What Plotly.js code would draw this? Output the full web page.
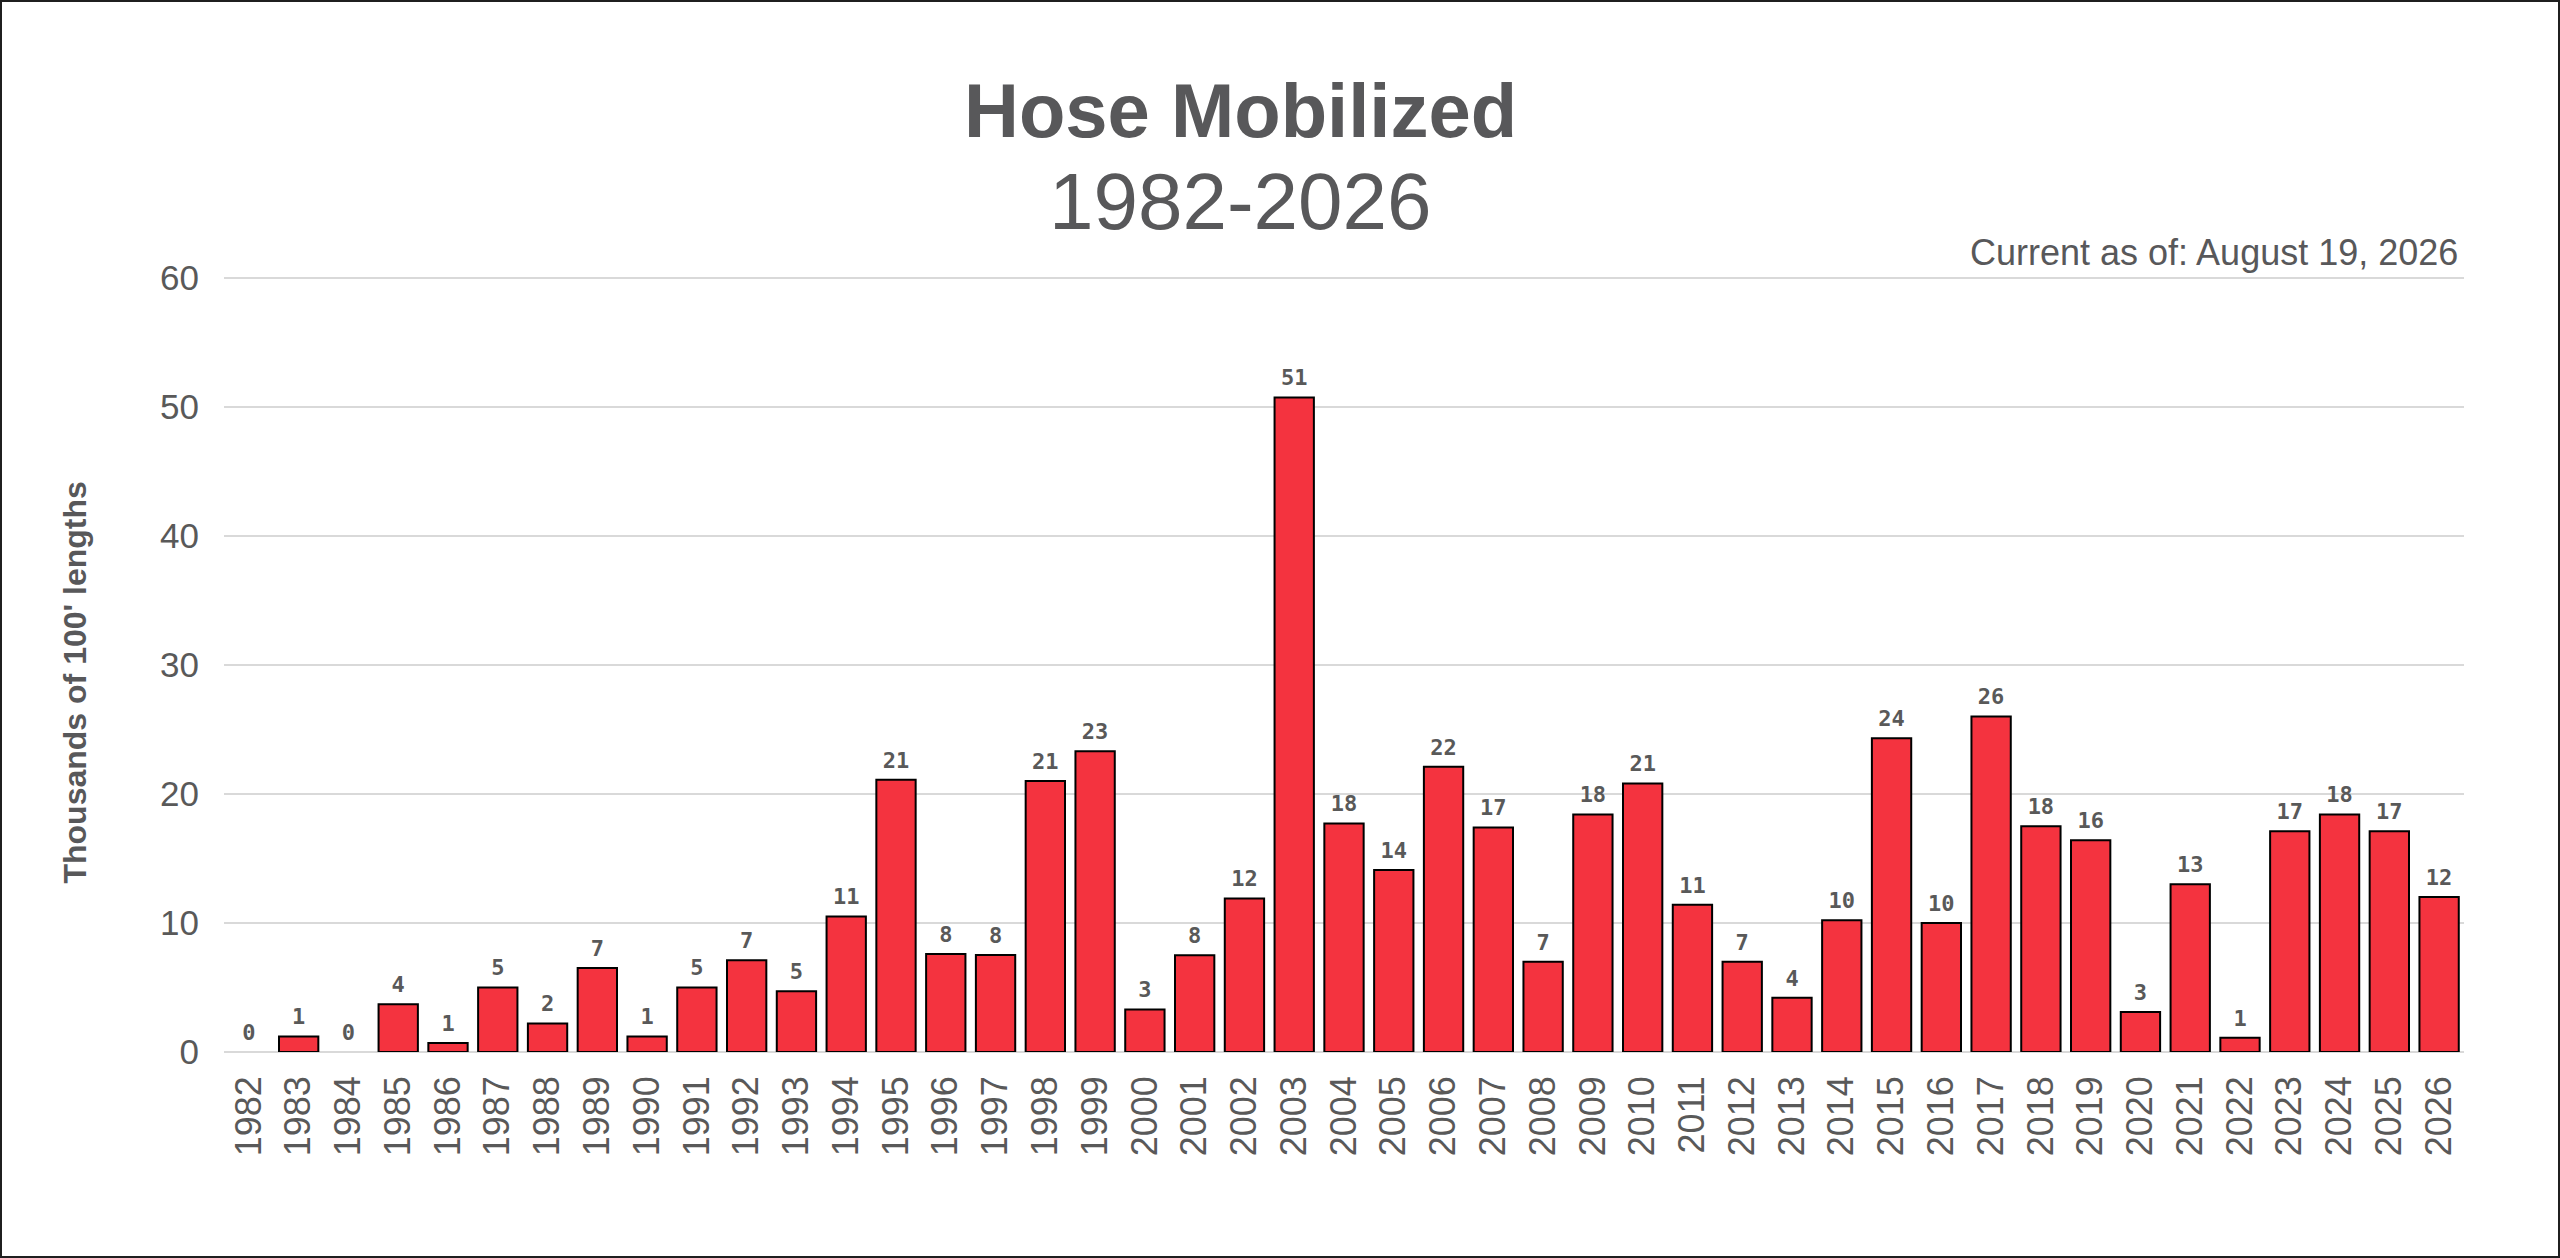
<!DOCTYPE html>
<html>
<head>
<meta charset="utf-8">
<title>Hose Mobilized</title>
<script src="https://cdn.plot.ly/plotly-3.0.1.min.js"></script>
<style>
    html, body {
        margin: 0;
        padding: 0;
        background: #ffffff;
    }

    #frame {
        width: 2560px;
        height: 1258px;
        box-sizing: border-box;
        border: 2px solid #1f1f1f;
        overflow: hidden;
    }
</style>
</head>
<body>
<div id="frame">
    <div id="chart"></div>
</div>

<script>
    // Hose mobilized per year, thousands of 100' lengths
    const years = [
        "1982", "1983", "1984", "1985", "1986", "1987", "1988", "1989",
        "1990", "1991", "1992", "1993", "1994", "1995", "1996", "1997",
        "1998", "1999", "2000", "2001", "2002", "2003", "2004", "2005",
        "2006", "2007", "2008", "2009", "2010", "2011", "2012", "2013",
        "2014", "2015", "2016", "2017", "2018", "2019", "2020", "2021",
        "2022", "2023", "2024", "2025", "2026"
    ];

    const hoseLengths = [
        0, 1.2, 0, 3.7, 0.7, 5.0, 2.2, 6.51,
        1.2, 5.0, 7.1, 4.7, 10.5, 21.1, 7.6, 7.52,
        21.0, 23.3, 3.3, 7.5, 11.9, 50.7, 17.7, 14.1,
        22.1, 17.4, 7.0, 18.4, 20.8, 11.4, 7.0, 4.2,
        10.2, 24.3, 10.0, 26.0, 17.5, 16.4, 3.1, 13.0,
        1.1, 17.1, 18.4, 17.1, 12.0
    ];

    const yTicks = [0, 10, 20, 30, 40, 50, 60];

    const chartTitle = "Hose Mobilized";
    const chartSubtitle = "1982-2026";
    const currentAsOf = "Current as of: August 19, 2026";
    const yTitle = "Thousands of 100' lengths";

    const TEXT_GREY = "#58585a";
    const TICK_GREY = "#595959";
    const GRID_GREY = "#d9d9d9";
    const BAR_RED = "#f4333f";
    const FONT = "Liberation Sans, Arial, sans-serif";

    // empty years get no outline, like the original
    const outlineWidths = hoseLengths.map(v => (v > 0 ? 2 : 0));

    const barTrace = {
        type: "bar",
        x: years,
        y: hoseLengths,
        marker: {
            color: BAR_RED,
            line: {
                color: "#000000",
                width: outlineWidths
            }
        },
        hoverinfo: "x+y"
    };

    // value labels sit a little above the bars
    const labelTrace = {
        type: "scatter",
        mode: "markers+text",
        x: years,
        y: hoseLengths,
        texttemplate: "%{y:.0f}",
        textposition: "top center",
        cliponaxis: false,
        marker: {
            size: 9,
            color: "rgba(0,0,0,0)"
        },
        textfont: {
            family: "DejaVu Sans Mono, monospace",
            size: 22,
            color: TICK_GREY,
            weight: "bold"
        },
        hoverinfo: "skip"
    };

    const layout = {
        width: 2556,
        height: 1254,
        paper_bgcolor: "#ffffff",
        plot_bgcolor: "#ffffff",
        showlegend: false,
        bargap: 0.21,

        font: {
            family: FONT,
            color: TICK_GREY
        },

        margin: {
            l: 222,
            r: 94,
            t: 273,
            b: 204
        },

        xaxis: {
            type: "category",
            range: [-0.5, years.length - 0.5],
            tickangle: -90,
            ticks: "",
            ticklabelstandoff: 16,
            showgrid: false,
            showline: false,
            tickfont: {
                size: 36,
                color: TICK_GREY
            }
        },

        yaxis: {
            range: [0, 60.2],
            tickvals: yTicks,
            ticks: "",
            ticklabelstandoff: 24,
            showline: false,
            gridcolor: GRID_GREY,
            gridwidth: 1.5,
            zeroline: true,
            zerolinecolor: GRID_GREY,
            zerolinewidth: 1.5,
            tickfont: {
                size: 35,
                color: TICK_GREY
            }
        },

        annotations: [
            {
                text: "<b>" + chartTitle + "</b>",
                xref: "paper",
                yref: "paper",
                x: 0.454,
                y: 1.1545,
                xanchor: "center",
                yanchor: "bottom",
                showarrow: false,
                font: {
                    size: 76,
                    color: TEXT_GREY
                }
            },
            {
                text: chartSubtitle,
                xref: "paper",
                yref: "paper",
                x: 0.454,
                y: 1.035,
                xanchor: "center",
                yanchor: "bottom",
                showarrow: false,
                font: {
                    size: 80,
                    color: TEXT_GREY
                }
            },
            {
                text: currentAsOf,
                xref: "paper",
                yref: "paper",
                x: 0.998,
                y: 1.0,
                xanchor: "right",
                yanchor: "bottom",
                showarrow: false,
                font: {
                    size: 36,
                    color: TEXT_GREY
                }
            },
            {
                text: "<b>" + yTitle + "</b>",
                xref: "paper",
                yref: "paper",
                x: -0.0667,
                y: 0.475,
                xanchor: "center",
                yanchor: "middle",
                textangle: -90,
                showarrow: false,
                font: {
                    size: 32,
                    color: TEXT_GREY
                }
            }
        ]
    };

    const config = {
        displayModeBar: false,
        responsive: false
    };

    Plotly.newPlot("chart", [barTrace, labelTrace], layout, config);
</script>
</body>
</html>
